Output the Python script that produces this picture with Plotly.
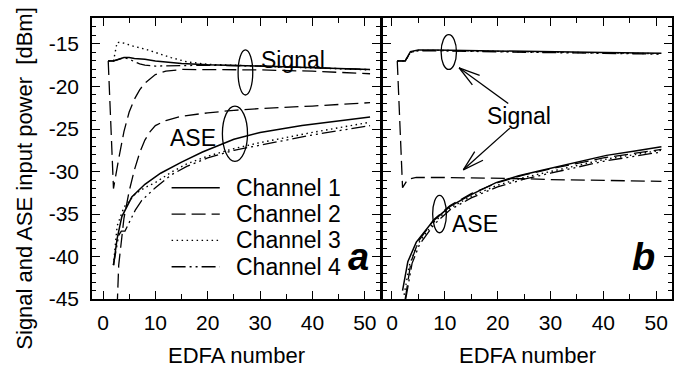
import plotly.graph_objects as go
import math

# ---------------- data ----------------
# Panel a : signal powers
a_sig1_x = [1, 2, 3, 4, 5, 6, 8, 10, 15, 20, 30, 40, 51]
a_sig1_y = [-17, -17, -16.8, -16.6, -16.6, -16.7, -16.8, -17.0, -17.3, -17.45, -17.6, -17.8, -18.0]
a_sig2_x = [1, 2, 3, 4, 5, 6, 7, 8, 10, 12, 15, 20, 30, 40, 51]
a_sig2_y = [-17, -32, -28.5, -25.3, -23.0, -21.5, -20.4, -19.6, -18.6, -18.2, -18.0, -18.0, -18.05, -18.2, -18.5]
a_sig3_x = [1, 2, 2.7, 4, 5, 6, 8, 10, 13, 16, 20, 30, 40, 51]
a_sig3_y = [-17, -17, -14.8, -14.9, -15.1, -15.3, -15.6, -16.0, -16.6, -17.1, -17.4, -17.6, -17.8, -18.05]
a_sig4_x = [1, 2, 3, 4, 5, 6, 7, 8, 10, 15, 20, 30, 40, 51]
a_sig4_y = [-17, -17, -16.8, -16.6, -16.8, -17.1, -17.35, -17.5, -17.6, -17.55, -17.5, -17.6, -17.8, -18.0]

# Panel a : ASE powers
a_ase1_x = [2, 2.7, 3.6, 5.5, 8, 11, 15, 19, 25, 30, 38, 45, 51]
a_ase1_y = [-41, -37.9, -35.3, -33.0, -31.5, -30.2, -28.9, -27.7, -26.2, -25.4, -24.6, -24.1, -23.6]
a_ase2_x = [2.7, 3, 4, 5, 6, 7, 8, 9, 10, 12, 15, 20, 25, 30, 40, 51]
a_ase2_y = [-46, -41, -35.5, -32.3, -29.8, -27.8, -26.3, -25.3, -24.6, -24.0, -23.5, -23.1, -22.8, -22.6, -22.3, -21.9]
a_ase3_x = [2, 2.7, 4, 6.2, 8, 10, 13, 16, 20, 25, 30, 40, 51]
a_ase3_y = [-41, -36.4, -34.2, -32.6, -31.9, -31.3, -30.1, -29.1, -28.2, -27.3, -26.6, -25.4, -24.2]
a_ase4_x = [2, 3, 3.5, 4.2, 6.2, 7.4, 10, 13, 16, 20, 25, 30, 40, 51]
a_ase4_y = [-41, -37.5, -37.0, -37.0, -34.5, -33.4, -31.9, -30.4, -29.4, -28.4, -27.5, -26.9, -25.7, -24.6]

# Panel b : signal powers
b_sig_x = [1, 2.5, 3.5, 5, 8, 12, 20, 28, 40, 51]
b_sig1_y = [-17, -17, -15.9, -15.7, -15.7, -15.75, -15.8, -15.9, -16.0, -16.1]
b_sig3_y = [-17, -17, -16.0, -15.75, -15.75, -15.8, -15.85, -15.95, -16.05, -16.15]
b_sig4_y = [-17, -17, -16.0, -15.8, -15.8, -15.85, -15.9, -16.0, -16.1, -16.2]
b_sig2_x = [1, 2, 3, 4.6, 10, 20, 25, 30, 40, 51]
b_sig2_y = [-17, -31.9, -30.9, -30.7, -30.7, -30.75, -30.85, -30.95, -31.05, -31.15]

# Panel b : ASE powers
b_ase1_x = [2, 3, 4.6, 7.8, 11, 14.7, 19.7, 24, 28, 35, 40.6, 46, 51]
b_ase1_y = [-44, -40.6, -38.3, -35.8, -34.1, -32.8, -31.3, -30.5, -29.9, -28.9, -28.1, -27.6, -27.1]
b_ase2_x = [2.5, 3.6, 5, 8, 11, 15, 20, 25, 30, 40, 51]
b_ase2_y = [-45, -40.6, -38.2, -35.6, -34.0, -32.6, -31.3, -30.4, -29.7, -28.4, -27.4]
b_ase3_x = [2.3, 3.3, 4.8, 8, 11, 15, 20, 25, 30, 40, 51]
b_ase3_y = [-44.5, -41, -38.6, -35.9, -34.3, -32.9, -31.6, -30.7, -30.0, -28.6, -27.5]
b_ase4_x = [2.6, 3.8, 5.2, 8, 11, 15, 20, 25, 30, 40, 51]
b_ase4_y = [-45, -40.8, -38.6, -36.2, -34.5, -33.1, -31.8, -30.9, -30.2, -28.8, -27.7]

channel_names = ["Channel 1", "Channel 2", "Channel 3", "Channel 4"]
x_tickvals = [0, 10, 20, 30, 40, 50]
x_ticktext = ["0", "10", "20", "30", "40", "50"]
y_tickvals = [-45, -40, -35, -30, -25, -20, -15]
y_ticktext = ["-45", "-40", "-35", "-30", "-25", "-20", "-15"]

# ---------------- styling ----------------
FONT = "Liberation Sans, Arial, Helvetica, sans-serif"
dashes = ["solid", "14px,6px", "1.5px,3.5px", "14px,4px,2px,4px,2px,4px"]
widths = [1.5, 1.3, 1.4, 1.3]

W, H = 679, 380
ax_a = (92, 380)
ax_b = (383, 672)
y_top, y_bot = 19, 308
xr_a = [-2.1, 52.9]
xr_b = [-1.7, 53.0]
yr = [-45, -12]

fig = go.Figure()

def add(x, y, ch, xa, ya):
    fig.add_trace(go.Scatter(x=x, y=y, mode="lines", xaxis=xa, yaxis=ya,
                             line=dict(color="black", dash=dashes[ch], width=widths[ch]),
                             showlegend=False, hoverinfo="skip"))

add(a_sig1_x, a_sig1_y, 0, "x", "y")
add(a_sig2_x, a_sig2_y, 1, "x", "y")
add(a_sig3_x, a_sig3_y, 2, "x", "y")
add(a_sig4_x, a_sig4_y, 3, "x", "y")
add(a_ase1_x, a_ase1_y, 0, "x", "y")
add(a_ase2_x, a_ase2_y, 1, "x", "y")
add(a_ase3_x, a_ase3_y, 2, "x", "y")
add(a_ase4_x, a_ase4_y, 3, "x", "y")

add(b_sig_x, b_sig1_y, 0, "x2", "y2")
add(b_sig2_x, b_sig2_y, 1, "x2", "y2")
add(b_sig_x, b_sig3_y, 2, "x2", "y2")
add(b_sig_x, b_sig4_y, 3, "x2", "y2")
add(b_ase1_x, b_ase1_y, 0, "x2", "y2")
add(b_ase2_x, b_ase2_y, 1, "x2", "y2")
add(b_ase3_x, b_ase3_y, 2, "x2", "y2")
add(b_ase4_x, b_ase4_y, 3, "x2", "y2")

# manual legend inside panel a
leg_line_x = [13.1, 22.3]
leg_rows_y = [-31.9, -35.0, -38.1, -41.2]
annotations = []
for i, name in enumerate(channel_names):
    add(leg_line_x, [leg_rows_y[i]] * 2, i, "x", "y")
    annotations.append(dict(x=25.0, y=leg_rows_y[i], xref="x", yref="y", text=name,
                            showarrow=False, xanchor="left", yanchor="middle",
                            font=dict(size=23, family=FONT, color="black")))

def txt(x, y, t, xref, yref, size=22, **kw):
    d = dict(x=x, y=y, xref=xref, yref=yref, text=t, showarrow=False,
             xanchor="center", yanchor="middle",
             font=dict(size=size, family=FONT, color="black"))
    d.update(kw)
    annotations.append(d)

txt(36.3, -16.9, "Signal", "x", "y", size=23)
txt(17.1, -26.1, "ASE", "x", "y", size=23)
txt(24.0, -23.5, "Signal", "x2", "y2", size=23)
txt(15.8, -36.2, "ASE", "x2", "y2", size=23)
txt(48.7, -40.0, "<b><i>a</i></b>", "x", "y", size=38)
txt(47.6, -40.0, "<b><i>b</i></b>", "x2", "y2", size=38)
# axis titles
txt((ax_a[0] + ax_a[1]) / 2 / W, 1 - 366 / H, "EDFA number", "paper", "paper")
txt((ax_b[0] + ax_b[1]) / 2 / W, 1 - 366 / H, "EDFA number", "paper", "paper")
txt(25 / W, 1 - 184 / H, "Signal and ASE input power  [dBm]", "paper", "paper",
    size=22, textangle=-90)

shapes = []
def ellipse(x0, x1, y0, y1, xref, yref):
    shapes.append(dict(type="circle", xref=xref, yref=yref, x0=x0, x1=x1, y0=y0, y1=y1,
                       line=dict(color="black", width=1.3)))

ellipse(25.8, 28.6, -21.0, -15.7, "x", "y")
ellipse(22.8, 27.6, -28.8, -22.3, "x", "y")
ellipse(9.3, 12.2, -18.0, -13.9, "x2", "y2")
ellipse(7.7, 10.3, -37.2, -32.8, "x2", "y2")

# arrows in panel b (shaft + open V head)
pxx = (ax_b[1] - ax_b[0]) / (xr_b[1] - xr_b[0])
pxy = (y_bot - y_top) / (yr[1] - yr[0])
def arrow(tx, ty, hx, hy, L=22, ang=16):
    shapes.append(dict(type="line", xref="x2", yref="y2", x0=tx, y0=ty, x1=hx, y1=hy,
                       line=dict(color="black", width=1.3)))
    dx, dy = (tx - hx) * pxx, (ty - hy) * pxy
    base = math.atan2(dy, dx)
    for s in (-1, 1):
        a = base + s * math.radians(ang)
        shapes.append(dict(type="line", xref="x2", yref="y2", x0=hx, y0=hy,
                           x1=hx + L * math.cos(a) / pxx, y1=hy + L * math.sin(a) / pxy,
                           line=dict(color="black", width=1.3)))

arrow(22.0, -22.0, 12.7, -17.8)
arrow(22.3, -24.9, 13.5, -29.8)

axis_common = dict(showline=True, linecolor="black", linewidth=1.5, mirror="ticks",
                   ticks="inside", ticklen=8, tickwidth=1.2, tickcolor="black",
                   showgrid=False, zeroline=False,
                   tickfont=dict(size=21, family=FONT, color="black"))

fig.update_layout(
    width=W, height=H, margin=dict(l=0, r=0, t=0, b=0),
    paper_bgcolor="white", plot_bgcolor="white", showlegend=False,
    xaxis=dict(domain=[ax_a[0] / W, ax_a[1] / W], range=xr_a, anchor="y",
               tickmode="array", tickvals=x_tickvals, ticktext=x_ticktext,
               minor=dict(tickmode="linear", tick0=0, dtick=5, ticks="inside", ticklen=5,
                          tickcolor="black", tickwidth=1),
               ticklabelstandoff=4, **axis_common),
    yaxis=dict(domain=[1 - y_bot / H, 1 - y_top / H], range=yr, anchor="x",
               tickmode="array", tickvals=y_tickvals, ticktext=y_ticktext,
               minor=dict(tickmode="linear", tick0=0, dtick=1, ticks="inside", ticklen=4,
                          tickcolor="black", tickwidth=1),
               ticklabelstandoff=7, **axis_common),
    xaxis2=dict(domain=[ax_b[0] / W, ax_b[1] / W], range=xr_b, anchor="y2",
                tickmode="array", tickvals=x_tickvals, ticktext=x_ticktext,
                minor=dict(tickmode="linear", tick0=0, dtick=5, ticks="inside", ticklen=5,
                           tickcolor="black", tickwidth=1),
                ticklabelstandoff=4, **axis_common),
    yaxis2=dict(domain=[1 - y_bot / H, 1 - y_top / H], range=yr, anchor="x2",
                tickmode="array", tickvals=y_tickvals, ticktext=y_ticktext, showticklabels=False,
                minor=dict(tickmode="linear", tick0=0, dtick=1, ticks="inside", ticklen=4,
                           tickcolor="black", tickwidth=1),
                **axis_common),
    annotations=annotations, shapes=shapes,
)

fig.write_html("out.html")
